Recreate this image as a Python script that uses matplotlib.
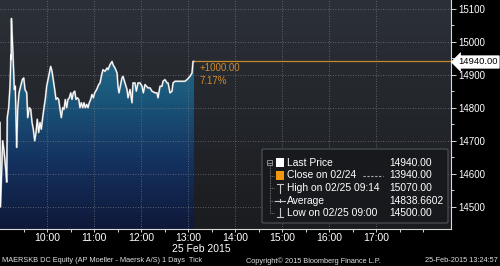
import numpy as np
import matplotlib
matplotlib.use("Agg")
import matplotlib.pyplot as plt
from matplotlib.colors import LinearSegmentedColormap
from matplotlib.patches import Rectangle, FancyBboxPatch, Polygon
from matplotlib.lines import Line2D
from matplotlib.ticker import FixedLocator

plt.rcParams['font.family'] = ['Liberation Sans', 'DejaVu Sans']

# ---- data: minutes after 09:00 and last price ----
minutes = [0, 0.6, 1.3, 3.4, 5.1, 7.7, 8.6, 9.3, 11.1, 12.8, 14.0, 14.3, 14.6, 16.5,
           18.3, 19.5, 21.3, 22.6, 24.3, 26.4, 28.5, 30.3, 31.9, 34.1, 35.4, 37.4,
           39.2, 40.9, 42.5, 44.3, 46.0, 47.6, 49.4, 51.1, 52.7, 54.5, 56.2, 57.8,
           59.6, 61.3, 62.9, 64.7, 66.4, 68.0, 69.8, 71.5, 73.1, 74.9, 76.6, 78.3,
           80.0, 81.7, 83.4, 85.1, 86.8, 88.5, 90.3, 91.9, 93.6, 95.4, 97.0, 98.7,
           100.5, 102.1, 103.8, 105.6, 107.2, 108.9, 110.7, 112.3, 114.0, 115.8,
           117.4, 119.1, 120.9, 123.4, 126.0, 127.7, 129.8, 131.5, 134.0, 136.6,
           137.9, 140.4, 143.0, 144.3, 146.8, 149.4, 150.6, 151.9, 154.5, 155.7,
           157.0, 159.6, 162.1, 163.4, 166.0, 168.5, 169.8, 172.3, 174.0, 176.2,
           178.7, 181.3, 183.0, 185.1, 188.9, 191.5, 194.0, 197.9, 200.4, 201.7,
           204.3, 206.8, 208.1, 210.6, 213.2, 214.5, 217.0, 219.6, 220.9, 223.4,
           226.0, 229.8, 233.6, 236.2, 238.7, 242.6, 245.1, 246.4, 247.7]
prices = [14755, 14500, 14550, 14700, 14670, 14605, 14575, 14770, 14800, 14865, 14960,
          14945, 15070, 14965, 14855, 14865, 14680, 14795, 14845, 14865, 14885, 14890,
          14855, 14845, 14770, 14800, 14795, 14755, 14735, 14700, 14725, 14765, 14725,
          14755, 14735, 14770, 14800, 14825, 14865, 14885, 14905, 14925, 14910, 14885,
          14855, 14825, 14830, 14825, 14795, 14770, 14800, 14795, 14825, 14800, 14825,
          14830, 14845, 14825, 14845, 14850, 14825, 14830, 14825, 14800, 14815, 14800,
          14815, 14800, 14810, 14800, 14815, 14825, 14840, 14830, 14845, 14855, 14870,
          14875, 14900, 14915, 14910, 14920, 14915, 14930, 14940, 14930, 14920, 14905,
          14865, 14845, 14875, 14890, 14895, 14875, 14855, 14830, 14855, 14815, 14875,
          14875, 14850, 14875, 14875, 14865, 14845, 14870, 14860, 14860, 14850, 14845,
          14845, 14830, 14865, 14865, 14880, 14885, 14875, 14875, 14845, 14850, 14875,
          14880, 14880, 14880, 14880, 14880, 14885, 14895, 14905, 14940, 14940]

hour_labels = ["10:00", "11:00", "12:00", "13:00", "14:00", "15:00", "16:00", "17:00"]
hour_minutes = [60, 120, 180, 240, 300, 360, 420, 480]
y_ticks = [14500, 14600, 14700, 14800, 14900, 15000, 15100]

last_price = 14940.00
prev_close = 13940.00

legend_rows = [("Last Price", "14940.00"),
               ("Close on 02/24", "13940.00"),
               ("High on 02/25 09:14", "15070.00"),
               ("Average", "14838.6602"),
               ("Low on 02/25 09:00", "14500.00")]

W, H = 500, 266
fig = plt.figure(figsize=(W / 100, H / 100), dpi=100, facecolor='black')
ax = fig.add_axes([0, (H - 229) / H, 451 / W, 229 / H])
XMAX = 575.7
YMIN, YMAX = 14433, 15126
ax.set_xlim(0, XMAX)
ax.set_ylim(YMIN, YMAX)

# background gradient
bg = LinearSegmentedColormap.from_list("bg", ["#1b1c1f", "#23262b", "#2c3138"])
grad = np.linspace(0, 1, 256).reshape(-1, 1)
ax.imshow(grad, cmap=bg, origin='lower', extent=[0, XMAX, YMIN, YMAX],
          aspect='auto', zorder=0, interpolation='bicubic')

# area fill gradient clipped by polygon
fillcmap = LinearSegmentedColormap.from_list(
    "fill", [(0.0, "#0f1838"), (0.3, "#143260"), (0.6, "#1b5a7c"), (0.85, "#247290"), (1.0, "#2c8199")])
xs = np.array(minutes)
ys = np.array(prices)
poly_xy = np.vstack([np.column_stack([xs, ys]), [[xs[-1], YMIN], [xs[0], YMIN]]])
poly = Polygon(poly_xy, closed=True, facecolor='none', edgecolor='none')
ax.add_patch(poly)
im = ax.imshow(grad, cmap=fillcmap, origin='lower', extent=[0, XMAX, YMIN, YMAX],
               aspect='auto', zorder=1, interpolation='bicubic')
im.set_clip_path(poly)

# line
ax.plot(xs, ys, color='#8e9298', lw=1.4, zorder=2)
ax.plot(xs, ys, color='white', lw=0.8, zorder=3)

# previous-close delta line
ax.plot([xs[-1], XMAX], [last_price, last_price], color='#c48a2c', lw=0.9, zorder=3)
ax.text(xs[-1] + 7, last_price - 5, "+%.2f" % (last_price - prev_close), color='#d08a2a',
        fontsize=7, va='top', ha='left', zorder=4)
ax.text(xs[-1] + 7, last_price - 43, "%.2f%%" % ((last_price - prev_close) / prev_close * 100),
        color='#d08a2a', fontsize=7, va='top', ha='left', zorder=4)

# grid
for m in hour_minutes:
    ax.axvline(m, color='#70747b', lw=0.6, ls=(0, (1, 2)), zorder=1.5)
for v in y_ticks:
    ax.axhline(v, color='#70747b', lw=0.6, ls=(0, (1, 2)), zorder=1.5)

# axes styling
for s in ['left', 'top']:
    ax.spines[s].set_visible(False)
for s in ['bottom', 'right']:
    ax.spines[s].set_color('#d8d8d8')
    ax.spines[s].set_linewidth(0.8)
    ax.spines[s].set_zorder(5)

ax.xaxis.set_major_locator(FixedLocator(hour_minutes))
ax.set_xticklabels(hour_labels)
ax.xaxis.set_minor_locator(FixedLocator([30, 90, 150, 210, 270, 330, 390, 450, 510, 540]))
ax.tick_params(axis='x', which='both', direction='out', length=2.2, width=0.7,
               color='#d8d8d8', labelcolor='white', labelsize=7.5, pad=0.6)

ax.yaxis.tick_right()
ax.yaxis.set_major_locator(FixedLocator(y_ticks))
ax.set_yticklabels([str(v) for v in y_ticks])
ax.yaxis.set_minor_locator(FixedLocator([v + 50 for v in y_ticks]))
ax.tick_params(axis='y', which='major', direction='out', length=3.5, width=0.7,
               color='#d8d8d8', labelcolor='white', labelsize=7, pad=1.5)
ax.tick_params(axis='y', which='minor', direction='out', length=2.2, width=0.7, color='#d8d8d8')

def fx(x):
    return x / W

def fy(y):
    return 1 - y / H

# last price tag
fig.text(fx(458), fy(62), "%.2f" % last_price, color='black', fontsize=6.8,
         ha='left', va='center', zorder=10,
         bbox=dict(boxstyle='larrow,pad=0.18', fc='white', ec='white', lw=0.5))

# date label and footer
fig.text(fx(201), fy(248.5), "25 Feb 2015", color='white', fontsize=7.5, ha='center', va='center')
fig.text(fx(2), fy(261), "MAERSKB DC Equity (AP Moeller - Maersk A/S) 1 Days  Tick",
         color='#e0e0e0', fontsize=5.3, ha='left', va='center')
fig.text(fx(313), fy(261), "Copyright\u00a9 2015 Bloomberg Finance L.P.",
         color='#e0e0e0', fontsize=5.3, ha='center', va='center')
fig.text(fx(498), fy(261), "25-Feb-2015 13:24:57",
         color='#e0e0e0', fontsize=5.3, ha='right', va='center')

# legend box
box = FancyBboxPatch((fx(262), fy(223)), fx(448) - fx(262), fy(149) - fy(223),
                     boxstyle='round,pad=0,rounding_size=0.004', transform=fig.transFigure,
                     fc='#17191c', ec='#50545a', lw=0.8, zorder=8)
fig.add_artist(box)

row_y = [163, 175.5, 188, 200.5, 213]
for (lab, val), yy in zip(legend_rows, row_y):
    fig.text(fx(287), fy(yy), lab, color='white', fontsize=7.4, ha='left', va='center', zorder=9)
    fig.text(fx(389), fy(yy), val, color='white', fontsize=7.4, ha='left', va='center', zorder=9)

def fline(xx, yy, **kw):
    fig.add_artist(Line2D([fx(v) for v in xx], [fy(v) for v in yy],
                          transform=fig.transFigure, zorder=9, **kw))

# tree connector
fig.add_artist(Rectangle((fx(267), fy(165)), 5 / W, 5 / H, transform=fig.transFigure,
                         fc='none', ec='#a0a0a0', lw=0.6, zorder=9))
fline([268, 271], [162.5, 162.5], color='#a0a0a0', lw=0.6)
fline([269.5, 269.5], [166, 213], color='#8a8a8a', lw=0.6, ls=(0, (1, 1)))
for yy in row_y[1:]:
    fline([269.5, 274], [yy, yy], color='#8a8a8a', lw=0.6, ls=(0, (1, 1)))

# symbols
fig.add_artist(Rectangle((fx(276), fy(167)), 8 / W, 9 / H, transform=fig.transFigure,
                         fc='white', ec='none', zorder=9))
fig.add_artist(Rectangle((fx(276), fy(180)), 8 / W, 9 / H, transform=fig.transFigure,
                         fc='#f0960f', ec='none', zorder=9))
fline([363, 383], [176, 176], color='#b0b0b0', lw=0.8, ls=(0, (2, 1.5)))
fline([277, 283], [183.5, 183.5], color='#c8c8c8', lw=0.8)
fline([280, 280], [183.5, 193], color='#c8c8c8', lw=0.8)
fline([275, 285], [200.5, 200.5], color='#c8c8c8', lw=0.8)
fline([280, 280], [199, 202], color='#c8c8c8', lw=0.8)
fline([280, 280], [208, 217], color='#c8c8c8', lw=0.8)
fline([277, 283], [217, 217], color='#c8c8c8', lw=0.8)

fig.savefig("out.png", dpi=100, facecolor='black')
